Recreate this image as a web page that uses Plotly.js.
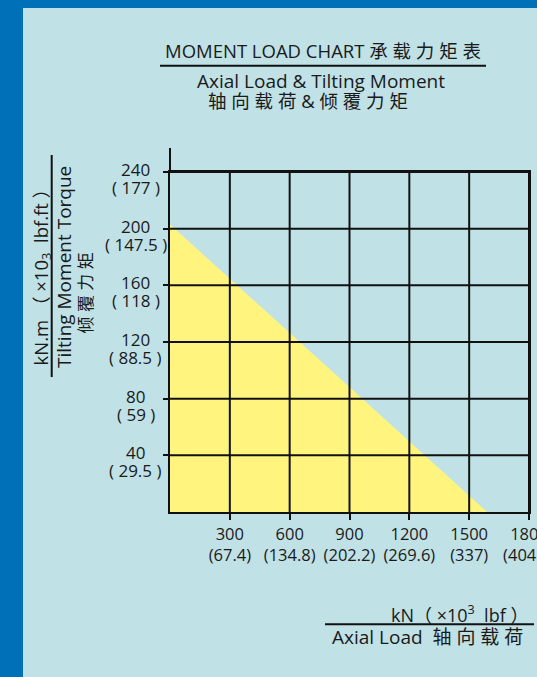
<!DOCTYPE html>
<html><head><meta charset="utf-8">
<script src="https://cdn.plot.ly/plotly-3.0.1.min.js"></script>
<style>
html,body{margin:0;padding:0;background:#0070b9;width:537px;height:677px;overflow:hidden;}
#chart{position:absolute;left:23px;top:8px;width:514px;height:669px;}
</style></head><body><div id="chart"></div>
<script>
// ---- data ----
const axialKN = [300, 600, 900, 1200, 1500, 1800];
const axialKlbf = ['67.4', '134.8', '202.2', '269.6', '337', '404.4'];
const momentKNm = [40, 80, 120, 160, 200, 240];
const momentKlbfft = ['29.5', '59', '88.5', '118', '147.5', '177'];
const envelopeAxial = [0, 0, 1590];
const envelopeMoment = [0, 203, 0];

// ---- layout helpers (page pixels -> paper) ----
const PL = 170, PR = 529, PT = 172, PB = 512;
const px = x => (x - PL) / (PR - PL);
const py = y => (PB - y) / (PB - PT);

const FONT = '"Open Sans", "Noto Sans CJK SC", sans-serif';
const TXT = '#1a1a1a';
const GRID = '#111111';

const trace = {
  type: 'scatter', mode: 'lines',
  x: envelopeAxial, y: envelopeMoment,
  fill: 'toself', fillcolor: '#fff57e',
  line: {width: 0}, hoverinfo: 'skip', showlegend: false
};

const shapes = [];
axialKN.forEach(v => shapes.push({type: 'line', layer: 'above', xref: 'x', yref: 'y',
  x0: v, x1: v, y0: 0, y1: momentKNm[momentKNm.length - 1], line: {color: GRID, width: 2}}));
momentKNm.forEach(v => shapes.push({type: 'line', layer: 'above', xref: 'x', yref: 'y',
  x0: 0, x1: axialKN[axialKN.length - 1], y0: v, y1: v, line: {color: GRID, width: 2}}));
// y axis extension above top
shapes.push({type: 'line', layer: 'above', xref: 'paper', yref: 'paper',
  x0: 0, x1: 0, y0: 1, y1: py(148), line: {color: GRID, width: 2}});
// title underline
shapes.push({type: 'line', xref: 'paper', yref: 'paper',
  x0: px(160), x1: px(486), y0: py(65.7), y1: py(65.7), line: {color: GRID, width: 2}});
// y title divider
shapes.push({type: 'line', xref: 'paper', yref: 'paper',
  x0: px(51.7), x1: px(51.7), y0: py(155), y1: py(377), line: {color: GRID, width: 2}});
// x title divider
shapes.push({type: 'line', xref: 'paper', yref: 'paper',
  x0: px(325), x1: px(534), y0: py(624.3), y1: py(624.3), line: {color: GRID, width: 2}});

const ann = (text, x, y, size, extra) => Object.assign({
  text, xref: 'paper', yref: 'paper', x: px(x), y: py(y),
  xanchor: 'center', yanchor: 'middle', showarrow: false,
  font: {family: FONT, size, color: TXT}
}, extra || {});

const annotations = [
  ann('MOMENT LOAD CHART 承 载 力 矩 表', 323, 51, 18.5),
  ann('Axial Load &amp; Tilting Moment', 320.5, 80.5, 19),
  ann('轴 向 载 荷 &amp; 倾 覆 力 矩', 307.5, 100, 18.5),
  ann('kN.m&nbsp;（ ×10<sub>3</sub> &nbsp;lbf.ft ）', 41.5, 273, 18.5, {textangle: -90}),
  ann('Tilting Moment Torque', 63.5, 267.5, 19, {textangle: -90}),
  ann('倾 覆 力 矩', 85, 293.5, 17, {textangle: -90}),
  ann('kN（ ×10<sup>3</sup> &nbsp;lbf ）', 459, 613.5, 18),
  ann('Axial Load &nbsp;轴 向 载 荷', 427, 637, 19)
];
momentKNm.forEach((v, i) => {
  annotations.push({
    text: String(v), xref: 'paper', yref: 'y', x: 0, y: v, xshift: -34.5, yshift: 2.5,
    xanchor: 'center', yanchor: 'middle', showarrow: false,
    font: {family: FONT, size: 17, color: TXT}
  });
  annotations.push({
    text: '( ' + momentKlbfft[i] + ' )', xref: 'paper', yref: 'y', x: 0, y: v, xshift: -34.5, yshift: -15.5,
    xanchor: 'center', yanchor: 'middle', showarrow: false,
    font: {family: FONT, size: 17, color: TXT}
  });
});

const layout = {
  width: 514, height: 669,
  margin: {l: PL - 23, r: 537 - PR, t: PT - 8, b: 677 - PB, pad: 0},
  paper_bgcolor: '#c0e1e6', plot_bgcolor: '#c0e1e6',
  showlegend: false,
  font: {family: FONT, color: TXT},
  xaxis: {
    range: [0, 1800], showgrid: false, zeroline: false,
    showline: true, linecolor: GRID, linewidth: 2, mirror: true,
    ticks: 'outside', ticklen: 6, tickwidth: 2, tickcolor: GRID,
    tickvals: axialKN,
    ticktext: axialKN.map((v, i) => v + '<br>(' + axialKlbf[i] + ')'),
    ticklabeloverflow: 'allow',
    tickfont: {family: FONT, size: 16.5, color: TXT}, fixedrange: true
  },
  yaxis: {
    range: [0, 240], showgrid: false, zeroline: false,
    showline: true, linecolor: GRID, linewidth: 2, mirror: true,
    ticks: 'outside', ticklen: 5, tickwidth: 2, tickcolor: GRID,
    tickvals: momentKNm, showticklabels: false, fixedrange: true
  },
  shapes, annotations
};

Plotly.newPlot('chart', [trace], layout, {displayModeBar: false, staticPlot: true});
</script></body></html>
